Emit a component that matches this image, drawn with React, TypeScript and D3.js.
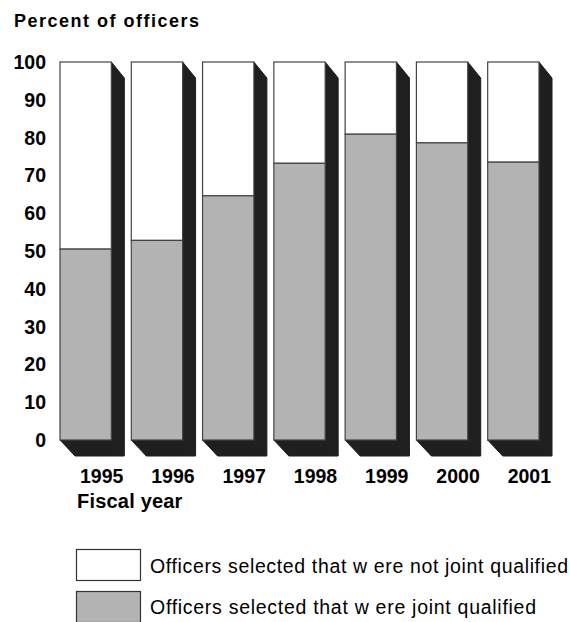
import * as d3 from 'd3'

const years = ['1995', '1996', '1997', '1998', '1999', '2000', '2001']
const jointQualified = [50.5, 52.8, 64.6, 73.2, 80.9, 78.6, 73.5]
const yTicks = [0, 10, 20, 30, 40, 50, 60, 70, 80, 90, 100]
const legendLabels = [
  'Officers selected that w ere not joint qualified',
  'Officers selected that w ere joint qualified',
]

const width = 570
const height = 622
const depthX = 13
const depthY = 16
const font = '"Liberation Sans", Arial, Helvetica, sans-serif'

export default function App() {
  const x = d3.scaleBand<string>().domain(years).range([60, 539]).paddingInner(0.28)
  const y = d3.scaleLinear().domain([0, 100]).range([440, 62])
  const bw = x.bandwidth()

  return (
    <svg
      width={width}
      height={height}
      style={{ position: 'absolute', left: 0, top: 0, background: '#fff' }}
      fontFamily={font}
    >
      <text x={14} y={27} fontSize={18} fontWeight="bold" letterSpacing={1.5}>
        Percent of officers
      </text>

      {yTicks.map(t => (
        <text key={t} x={46} y={y(t) + 7} fontSize={19.5} fontWeight="bold" textAnchor="end">
          {t}
        </text>
      ))}

      {years.map((yr, i) => {
        const x0 = x(yr) as number
        const x1 = x0 + bw
        const top = y(100)
        const base = y(0)
        const mid = y(jointQualified[i])
        const side = [
          [x1, top],
          [x1 + depthX, top + depthY],
          [x1 + depthX, base + depthY],
          [x1, base],
        ]
        const bottom = [
          [x0, base],
          [x0 + depthX + 2, base + depthY],
          [x1 + depthX, base + depthY],
          [x1, base],
        ]
        return (
          <g key={yr}>
            <polygon points={side.map(p => p.join(',')).join(' ')} fill="#1f1f1f" stroke="#1f1f1f" />
            <polygon points={bottom.map(p => p.join(',')).join(' ')} fill="#1f1f1f" stroke="#1f1f1f" />
            <rect x={x0} y={top} width={bw} height={mid - top} fill="#fff" stroke="#444" strokeWidth={1.2} />
            <rect x={x0} y={mid} width={bw} height={base - mid} fill="#b3b3b3" stroke="#444" strokeWidth={1.2} />
            <text
              x={x0 + bw / 2 + 16}
              y={483}
              fontSize={19.5}
              fontWeight="bold"
              textAnchor="middle"
            >
              {yr}
            </text>
          </g>
        )
      })}

      <text x={77} y={508} fontSize={20} fontWeight="bold" letterSpacing={0.2}>
        Fiscal year
      </text>

      {legendLabels.map((label, i) => (
        <g key={label} transform={`translate(0,${i * 42})`}>
          <rect
            x={76.5}
            y={549.5}
            width={64}
            height={31}
            fill={i === 0 ? '#fff' : '#b3b3b3'}
            stroke="#333"
            strokeWidth={1.2}
          />
          <text
            x={150}
            y={573 - i}
            fontSize={19.5}
            textLength={i === 0 ? 418 : 386}
            lengthAdjust="spacing"
          >
            {label}
          </text>
        </g>
      ))}
    </svg>
  )
}
